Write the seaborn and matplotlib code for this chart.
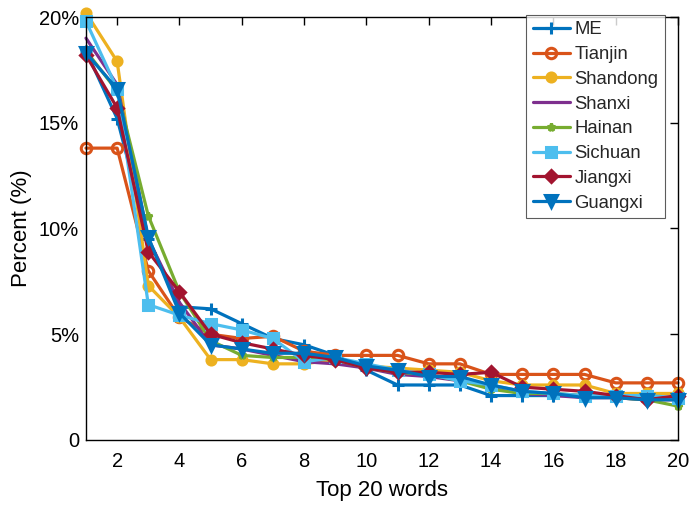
import numpy as np
import pandas as pd
import matplotlib
matplotlib.use("Agg")
import matplotlib.pyplot as plt
import seaborn as sns
from matplotlib.ticker import FuncFormatter

sns.set_theme(style="white")
plt.rcParams['font.family'] = ['Liberation Sans', 'DejaVu Sans']

ranks = list(range(1, 21))
series_names = ["ME", "Tianjin", "Shandong", "Shanxi", "Hainan", "Sichuan", "Jiangxi", "Guangxi"]

me       = [18.4, 15.2, 9.5, 6.3, 6.2, 5.5, 4.8, 4.5, 4.0, 3.3, 2.6, 2.6, 2.6, 2.1, 2.1, 2.1, 2.1, 2.0, 2.0, 1.9]
tianjin  = [13.8, 13.8, 8.0, 5.8, 5.0, 4.8, 4.9, 4.2, 4.0, 4.0, 4.0, 3.6, 3.6, 3.1, 3.1, 3.1, 3.1, 2.7, 2.7, 2.7]
shandong = [20.2, 17.9, 7.3, 5.8, 3.8, 3.8, 3.6, 3.6, 3.8, 3.5, 3.4, 3.3, 3.2, 2.8, 2.6, 2.6, 2.6, 2.2, 2.2, 2.2]
shanxi   = [19.0, 16.8, 9.5, 6.5, 4.5, 4.3, 4.0, 3.7, 3.6, 3.4, 3.1, 3.0, 2.8, 2.5, 2.2, 2.1, 2.0, 2.0, 1.9, 1.9]
hainan   = [18.4, 16.5, 10.6, 7.0, 4.7, 4.0, 3.9, 3.9, 3.8, 3.4, 3.2, 3.1, 2.8, 2.4, 2.2, 2.2, 2.1, 2.0, 1.9, 1.6]
sichuan  = [19.8, 16.6, 6.4, 5.9, 5.5, 5.2, 4.8, 3.7, 3.9, 3.6, 3.3, 3.1, 2.8, 2.6, 2.3, 2.2, 2.1, 2.1, 2.1, 2.0]
jiangxi  = [18.2, 15.7, 8.9, 7.0, 5.0, 4.6, 4.3, 4.0, 3.8, 3.4, 3.2, 3.2, 3.1, 3.2, 2.5, 2.4, 2.3, 2.1, 1.9, 2.1]
guangxi  = [18.3, 16.6, 9.6, 6.0, 4.5, 4.3, 4.1, 4.1, 3.9, 3.5, 3.3, 3.0, 3.0, 2.6, 2.3, 2.2, 2.0, 2.0, 1.9, 1.9]

values = [me, tianjin, shandong, shanxi, hainan, sichuan, jiangxi, guangxi]

colors = ["#0072BD", "#D95319", "#EDB120", "#7E2F8E", "#77AC30", "#4DBEEE", "#A2142F", "#0072BD"]
markers = ["+", "o", "o", "", "*", "s", "D", "v"]
msizes = [8, 7.5, 6.5, 0, 6, 6.5, 6, 8.5]
mfcs = [None, "none", None, None, None, None, None, None]

df = pd.DataFrame({
    "rank": np.tile(ranks, len(series_names)),
    "value": np.concatenate(values),
    "series": np.repeat(series_names, len(ranks)),
})

fig = plt.figure(figsize=(6.89, 5.09), dpi=100)
ax = fig.add_axes([0.1248, 0.1356, 0.8592, 0.831])

for name, c, m, ms, mfc in zip(series_names, colors, markers, msizes, mfcs):
    sub = df[df["series"] == name]
    kw = dict(color=c, linewidth=2.3, label=name, clip_on=False)
    if m:
        kw.update(marker=m, markersize=ms, markeredgecolor=c, markeredgewidth=2.2)
        kw.update(markerfacecolor=(mfc if mfc is not None else c))
    sns.lineplot(data=sub, x="rank", y="value", ax=ax, **kw)

ax.set_xlim(1, 20)
ax.set_ylim(0, 20)
ax.set_xticks(range(2, 21, 2))
ax.set_yticks([0, 5, 10, 15, 20])
ax.yaxis.set_major_formatter(FuncFormatter(lambda v, p: "0" if v == 0 else f"{v:.0f}%"))
ax.tick_params(direction="in", length=6, width=1, top=True, right=True, labelsize=14.5, colors="black")
ax.tick_params(axis="x", pad=9)
ax.tick_params(axis="y", pad=5)
for s in ax.spines.values():
    s.set_visible(True)
    s.set_color("black")
    s.set_linewidth(1)
ax.set_xlabel("Top 20 words", fontsize=16, labelpad=6, color="black")
ax.set_ylabel("Percent (%)", fontsize=16, labelpad=5, color="black")

leg = ax.legend(loc="upper right", fontsize=13.3, frameon=True, fancybox=False,
                edgecolor="#333333", handlelength=2.0, borderaxespad=0.0, labelspacing=0.42,
                handletextpad=0.25, borderpad=0.35, bbox_to_anchor=(0.978, 1.005))
leg.get_frame().set_linewidth(0.8)

fig.savefig("out.png", dpi=100)
